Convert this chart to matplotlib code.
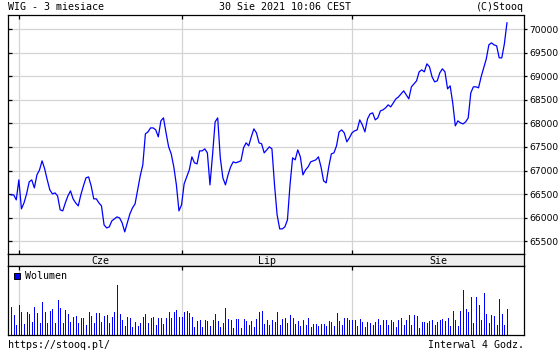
import matplotlib
matplotlib.use("Agg")
import matplotlib.pyplot as plt
from matplotlib.patches import Rectangle
import numpy as np
import pandas as pd

# WIG, one value per 4h bar (3 bars per session), 31 May - 30 Aug 2021
wig = [66484, 66484, 66378, 66802, 66187, 66315, 66505, 66760, 66802, 66632,
       66908, 67014, 67206, 67036, 66802, 66590, 66505, 66526, 66463, 66166,
       66145, 66314, 66463, 66569, 66400, 66314, 66250, 66484, 66675, 66845,
       66866, 66675, 66400, 66400, 66314, 66250, 65847, 65783, 65805, 65932,
       65975, 66017, 65996, 65890, 65699, 65890, 66081, 66208, 66293, 66590,
       66887, 67121, 67778, 67820, 67905, 67905, 67863, 67715, 68054, 68118,
       67800, 67503, 67354, 67078, 66696, 66145, 66272, 66717, 66866, 67014,
       67291, 67164, 67142, 67418, 67418, 67460, 67375, 66696, 67333, 68033,
       68118, 67270, 66845, 66696, 66908, 67078, 67185, 67164, 67185, 67206,
       67482, 67588, 67524, 67715, 67885, 67800, 67588, 67567, 67375, 67439,
       67503, 67460, 66696, 66060, 65763, 65763, 65805, 65953, 66696, 67270,
       67227, 67439, 67291, 66908, 67014, 67078, 67185, 67206, 67227, 67291,
       67078, 66781, 66739, 67078, 67354, 67375, 67524, 67820, 67863, 67800,
       67609, 67694, 67800, 67842, 67863, 68075, 67969, 67820, 68096, 68203,
       68224, 68075, 68118, 68266, 68288, 68330, 68394, 68351, 68436, 68521,
       68563, 68627, 68691, 68606, 68521, 68776, 68839, 68903, 69094, 69136,
       69094, 69264, 69200, 68988, 68882, 68903, 69073, 69158, 69094, 68733,
       68797, 68436, 67948, 68054, 68012, 67990, 68033, 68118, 68648, 68776,
       68776, 68755, 68988, 69179, 69370, 69667, 69709, 69667, 69646, 69391,
       69391, 69688, 70134]

# volume, relative units
volume = [28, 20, 10, 30, 23, 11, 23, 21, 13, 28,
          22, 12, 33, 23, 12, 24, 26, 12, 35, 27,
          12, 25, 21, 13, 18, 19, 12, 17, 17, 10,
          23, 19, 12, 22, 22, 13, 19, 20, 12, 18,
          23, 50, 21, 15, 9, 18, 17, 8, 13, 9,
          12, 18, 21, 12, 17, 18, 10, 17, 17, 11,
          17, 23, 17, 23, 25, 18, 18, 23, 24, 22,
          18, 8, 14, 15, 8, 15, 14, 9, 15, 21,
          14, 8, 12, 27, 16, 15, 7, 16, 16, 7,
          16, 14, 10, 14, 8, 16, 23, 24, 11, 15,
          10, 15, 13, 23, 10, 16, 17, 12, 20, 17,
          11, 14, 9, 15, 10, 17, 8, 11, 11, 9,
          11, 11, 9, 14, 13, 9, 22, 14, 10, 17,
          17, 15, 15, 15, 9, 16, 13, 8, 13, 12,
          10, 13, 16, 10, 15, 15, 10, 15, 13, 8,
          15, 17, 10, 15, 20, 10, 20, 19, 7, 13,
          13, 12, 14, 15, 10, 13, 15, 16, 14, 17,
          9, 24, 15, 9, 24, 45, 26, 23, 38, 12,
          38, 30, 15, 42, 21, 12, 20, 19, 10, 36,
          21, 10, 26]

yticks = [65500, 66000, 66500, 67000, 67500, 68000, 68500, 69000, 69500, 70000]
month_names = ["Cze", "Lip", "Sie"]

# trading sessions -> 3 bars each, last session only one bar so far
days = pd.bdate_range("2021-05-31", "2021-08-27")
days = days[days != pd.Timestamp("2021-06-03")]
bar_month = np.array(list(np.repeat(days.month, 3)) + [8])
month_starts = list(np.where(np.diff(bar_month) != 0)[0] + 1)

x = np.arange(len(wig))
xmin, xmax = -1.2, 198.6

blue = "#0000ff"
grid = "#d4d4d4"
mono = "DejaVu Sans Mono"

fig = plt.figure(figsize=(5.6, 3.5), dpi=100)
W, H = 560, 350

def box(l, t, r, b):
    return fig.add_axes([l / W, 1 - b / H, (r - l) / W, (b - t) / H])

ax = box(8, 15, 524, 254)
band = box(8, 254, 524, 266)
axv = box(8, 266, 524, 335)

for a in (ax, band, axv):
    a.set_xlim(xmin, xmax)
    for s in a.spines.values():
        s.set_linewidth(0.9)

# price panel
ax.plot(x, wig, color=blue, lw=0.9)
ax.set_ylim(65230, 70300)
ax.set_yticks(yticks)
ax.set_xticks(month_starts)
ax.grid(True, color=grid, lw=0.9)
ax.tick_params(axis="x", bottom=True, top=True, labelbottom=False,
               direction="in", length=3, width=0.9)
ax.tick_params(axis="y", left=True, right=False, labelleft=False, labelright=False,
               direction="in", length=3, width=0.9)

# right-hand scale, ticks pointing out
axr = ax.twinx()
axr.set_ylim(ax.get_ylim())
axr.set_yticks(yticks)
axr.tick_params(axis="y", direction="out", length=2.5, width=0.9, labelsize=6.6, pad=1.5)
for s in axr.spines.values():
    s.set_visible(False)

# month band
band.set_facecolor("#eeeeee")
band.set_xticks([])
band.set_yticks([])
edges = month_starts + [xmax]
for i, name in enumerate(month_names):
    band.text((edges[i] + edges[i + 1]) / 2, 0.45, name, ha="center", va="center",
              fontsize=7.2, family=mono, transform=band.get_xaxis_transform())

# volume panel
axv.vlines(x, 0, volume, colors=blue, lw=0.72, antialiased=False)
axv.set_ylim(0, 69)
axv.set_yticks([])
axv.set_xticks(month_starts)
axv.grid(True, axis="x", color=grid, lw=0.9)
axv.set_axisbelow(True)
axv.tick_params(axis="x", bottom=False, top=True, labelbottom=False,
                direction="in", length=3, width=0.9)
axv.add_patch(Rectangle((0.0116, 0.81), 0.0116, 0.09, transform=axv.transAxes,
                        facecolor=blue, edgecolor="black", lw=0.7))
axv.text(0.033, 0.855, "Wolumen", transform=axv.transAxes, va="center",
         fontsize=7.2, family=mono)

# header / footer
fig.text(8 / W, 1 - 7 / H, "WIG - 3 miesiace", va="center", fontsize=7.2, family=mono)
fig.text(285 / W, 1 - 7 / H, "30 Sie 2021 10:06 CEST", va="center", ha="center",
         fontsize=7.2, family=mono)
fig.text(524 / W, 1 - 7 / H, "(C)Stooq", va="center", ha="right", fontsize=7.2, family=mono)
fig.text(8 / W, 1 - 345 / H, "https://stooq.pl/", va="center", fontsize=7.2, family=mono)
fig.text(524 / W, 1 - 345 / H, "Interwal 4 Godz.", va="center", ha="right",
         fontsize=7.2, family=mono)

fig.savefig("out.png", dpi=100)
